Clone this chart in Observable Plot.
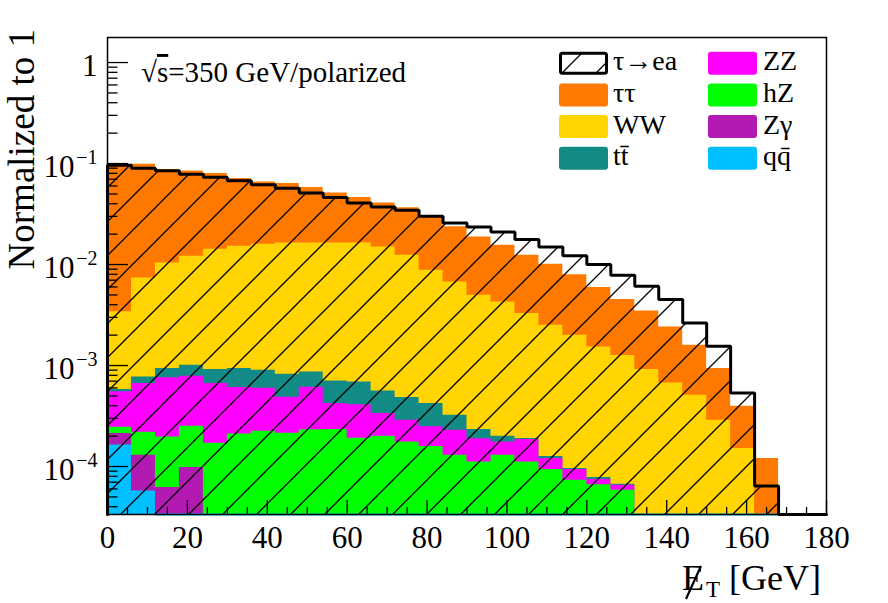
<!DOCTYPE html>
<html><head><meta charset="utf-8">
<script src="https://cdn.jsdelivr.net/npm/d3@7"></script>
<script src="https://cdn.jsdelivr.net/npm/@observablehq/plot@0.6"></script>
<style>html,body{margin:0;padding:0;background:#fff;overflow:hidden} svg text{font-family:"Liberation Serif",serif !important}</style>
</head><body><div id="chart"></div>
<script>
// ---- data (bins of 6 GeV in missing ET) ----
const binLow = [0,6,12,18,24,30,36,42,48,54,60,66,72,78,84,90,96,102,108,114,120,126,132,138,144,150,156,162,168,174];
const binWidth = 6;

// signal tau -> e a (normalized to 1)
const sigTauEA = [0.0962,0.0898,0.0848,0.0784,0.0732,0.0676,0.0617,0.0569,0.0511,0.0461,0.0407,0.0372,0.0345,0.0301,0.0258,0.0236,0.0210,0.0177,0.0149,0.0122,0.0100,0.00783,0.00610,0.00450,0.00264,0.00155,0.000536,0.0000643,0,0];

// backgrounds (stacked)
const bkgTauTau = [0.0917,0.0911,0.0768,0.0724,0.0654,0.0558,0.0498,0.0470,0.0415,0.0348,0.0297,0.0258,0.0241,0.0204,0.0170,0.01379,0.01126,0.00909,0.00756,0.00593,0.00439,0.00324,0.00256,0.00174,0.00108,0.000647,0.000244,0.000120,0,0];
const bkgWW = [0.00282,0.00660,0.00944,0.01108,0.01326,0.01425,0.01499,0.01555,0.01551,0.01567,0.01568,0.01438,0.01188,0.00836,0.00640,0.00474,0.00406,0.00308,0.00238,0.00190,0.00145,0.00119,0.000913,0.000672,0.000508,0.000287,0.000151,0,0,0];
const bkgTT = [0.000029,0.000108,0.000177,0.000224,0.000250,0.000329,0.000302,0.000334,0.000254,0.000284,0.000279,0.000226,0.000195,0.000173,0.000093,0.000044,0.000025,0.000004,0.000006,0.000002,0.0000034,0.0000015,0,0,0,0,0,0,0,0];
const bkgZZ = [0.000305,0.000445,0.000561,0.000532,0.000493,0.000395,0.000373,0.000272,0.000379,0.000188,0.000218,0.000135,0.000112,0.000089,0.000100,0.000077,0.000046,0.000074,0.0000266,0.0000202,0.0000084,0.000007,0,0,0,0,0,0,0,0];
const bkgHZ = [0.000033,0.000089,0.000134,0.000153,0.000170,0.000210,0.000223,0.000214,0.000231,0.000232,0.000191,0.000200,0.000175,0.000158,0.000129,0.000111,0.000129,0.000111,0.0000934,0.0000732,0.000066,0.0000583,0,0,0,0,0,0,0,0];
const bkgZG = [0.000049,0.0000717,0.0000619,0.0000977,0,0,0,0,0,0,0,0,0,0,0,0,0,0,0,0,0,0,0,0,0,0,0,0,0,0];
const bkgQQ = [0.000163,0.0000573,0,0,0,0,0,0,0,0,0,0,0,0,0,0,0,0,0,0,0,0,0,0,0,0,0,0,0,0];

const stackNames  = ["qq\u0304", "Z\u03b3", "hZ", "ZZ", "tt\u0304", "WW", "\u03c4\u03c4"]; // bottom -> top
const stackValues = [bkgQQ, bkgZG, bkgHZ, bkgZZ, bkgTT, bkgWW, bkgTauTau];
const stackColors = ["#00bfff", "#b21ab2", "#00ff00", "#ff00ff", "#128a85", "#ffd400", "#ff7800"];

const legendLabels = ["\u03c4\u2192ea", "\u03c4\u03c4", "WW", "tt\u0304", "ZZ", "hZ", "Z\u03b3", "qq\u0304"];
const legendColors = [null, "#ff7800", "#ffd400", "#128a85", "#ff00ff", "#00ff00", "#b21ab2", "#00bfff"];

const xMajor = [0,20,40,60,80,100,120,140,160,180];
const xMinor = [5,10,15,25,30,35,45,50,55,65,70,75,85,90,95,105,110,115,125,130,135,145,150,155,165,170,175];
const yDecades = [1e-4,1e-3,1e-2,1e-1,1];
const yExpLabels = ["\u22124","\u22123","\u22122","\u22121"];
const yMin = 3.35e-5, yMax = 1.77;
const xMin = 0, xMax = 180;

// ---- derived tables ----
const W = 888, H = 603, mL = 107, mR = 62, mT = 37, mB = 89;
const frameH = H - mT - mB, frameW = W - mL - mR;
const pxPerDec = frameH / Math.log10(yMax / yMin);
const yUp = px => yMin * Math.pow(10, px / pxPerDec);
const xRight = px => xMin + (xMax - xMin) * px / frameW;
const ff = "Liberation Serif";

function histArea(vals) {
  const pts = [];
  vals.forEach((v, i) => {
    if (v > 0) pts.push({x: binLow[i], y: v}, {x: binLow[i] + binWidth, y: v});
    else pts.push({x: binLow[i], y: NaN});
  });
  return pts;
}
// cumulative stack
const cum = [];
let run = binLow.map(() => 0);
stackValues.forEach(vals => { run = run.map((s, i) => s + vals[i]); cum.push(run.slice()); });
const layers = cum.map((c, k) => ({pts: histArea(c), color: stackColors[k]})).reverse(); // draw top first

const outline = [{x: binLow[0], y: yMin}];
sigTauEA.forEach((v, i) => { const y = v > 0 ? v : yMin; outline.push({x: binLow[i], y}, {x: binLow[i] + binWidth, y}); });

const total = cum[cum.length - 1];
const qqZeroBins = binLow.map((b, i) => ({x0: b, x1: b + binWidth, q: bkgQQ[i], t: total[i]})).filter(d => d.q === 0 && d.t > 0);

const yMinor = [];
for (let e = -5; e <= 0; e++) for (let k = 2; k <= 9; k++) { const v = k * Math.pow(10, e); if (v > yMin && v < yMax) yMinor.push(v); }

const marks = [];
layers.forEach(L => marks.push(Plot.areaY(L.pts, {x: "x", y1: yMin, y2: "y", fill: L.color})));
marks.push(Plot.ruleY(qqZeroBins, {y: () => yMin, x1: "x0", x2: "x1", stroke: "#00bfff", strokeWidth: 2}));
marks.push(Plot.areaY(histArea(sigTauEA), {x: "x", y1: yMin, y2: "y", fill: "url(#hatch)"}));
marks.push(Plot.line(outline, {x: "x", y: "y", stroke: "black", strokeWidth: 3, strokeLinejoin: "miter"}));
// ticks
marks.push(Plot.ruleX(xMajor, {x: d => d, y1: yMin, y2: yUp(14), stroke: "black", strokeWidth: 1.3}));
marks.push(Plot.ruleX(xMinor, {x: d => d, y1: yMin, y2: yUp(7), stroke: "black", strokeWidth: 1.3}));
marks.push(Plot.ruleY(yDecades, {y: d => d, x1: xMin, x2: xRight(21), stroke: "black", strokeWidth: 1.3}));
marks.push(Plot.ruleY(yMinor, {y: d => d, x1: xMin, x2: xRight(10.5), stroke: "black", strokeWidth: 1.3}));
marks.push(Plot.frame({stroke: "black", strokeWidth: 1.5}));
// tick labels
marks.push(Plot.text(xMajor, {x: d => d, frameAnchor: "bottom", lineAnchor: "top", dy: 11, text: d => String(d), fontSize: 31, fontFamily: ff}));
marks.push(Plot.text([1], {y: d => d, frameAnchor: "left", textAnchor: "end", dx: -10, dy: 4, text: () => "1", fontSize: 31, fontFamily: ff}));
marks.push(Plot.text(yDecades.slice(0, 4), {y: d => d, frameAnchor: "left", textAnchor: "end", dx: -33, dy: 4, text: () => "10", fontSize: 31, fontFamily: ff}));
marks.push(Plot.text(yDecades.slice(0, 4), {y: d => d, frameAnchor: "left", textAnchor: "end", dx: -10, dy: -6, text: (d, i) => yExpLabels[i], fontSize: 20, fontFamily: ff}));

const svg = Plot.plot({
  width: W, height: H, marginLeft: mL, marginRight: mR, marginTop: mT, marginBottom: mB,
  x: {domain: [xMin, xMax], axis: null},
  y: {type: "log", domain: [yMin, yMax], axis: null},
  style: {fontFamily: ff, background: "white", color: "black"},
  marks
});
svg.style.fontFamily = ff;

const S = d3.select(svg);
const defs = S.insert("defs", ":first-child");
const pat = defs.append("pattern").attr("id", "hatch").attr("patternUnits", "userSpaceOnUse")
  .attr("x", 23).attr("y", 0).attr("width", 34).attr("height", 34);
pat.append("path").attr("d", "M0,34L34,0M-3,3L3,-3M31,37L37,31").attr("stroke", "black").attr("stroke-width", 1.3).attr("fill", "none");

// axis titles
S.append("text").attr("transform", "translate(34,29) rotate(-90)").attr("text-anchor", "end")
  .attr("font-size", 37).attr("fill", "black").text("Normalized to 1");
const xt = S.append("text").attr("x", 682).attr("y", 590).attr("text-anchor", "start").attr("font-size", 36).attr("fill", "black");
xt.append("tspan").text("E");
xt.append("tspan").attr("dx", 2).attr("dy", 7).attr("font-size", 23).text("T");
xt.append("tspan").attr("dy", -7).text(" [GeV]");
// slash of the missing-energy symbol
S.append("path").attr("d", "M686,599L701,566").attr("stroke", "black").attr("stroke-width", 2.2).attr("fill", "none");
// energy annotation
const an = S.append("text").attr("x", 141).attr("y", 82).attr("text-anchor", "start").attr("font-size", 29).attr("fill", "black");
an.append("tspan").text("\u221a");
an.append("tspan").style("text-decoration", "overline").text("s");
an.append("tspan").text("=350 GeV/polarized");

// legend
const lg = S.append("g").attr("font-size", 28).attr("text-anchor", "start");
const colSw = [559, 708], colTx = [613, 763];
legendLabels.forEach((lab, i) => {
  const c = Math.floor(i / 4), r = i % 4;
  const top = 51.7 + r * 31.7;
  if (legendColors[i] === null) {
    lg.append("rect").attr("x", colSw[c] + 1.5).attr("y", top + 1.5).attr("width", 46).attr("height", 20).attr("fill", "white");
    lg.append("rect").attr("x", colSw[c] + 1.5).attr("y", top + 1.5).attr("width", 46).attr("height", 20).attr("rx", 2)
      .attr("fill", "url(#hatch)").attr("stroke", "black").attr("stroke-width", 3);
  } else {
    lg.append("rect").attr("x", colSw[c]).attr("y", top).attr("width", 49).attr("height", 23).attr("rx", 3).attr("fill", legendColors[i]);
  }
  lg.append("text").attr("x", colTx[c]).attr("y", top + 18.5).attr("fill", "black").text(lab);
});

S.selectAll("text").style("font-family", "'Liberation Serif', serif");
document.getElementById("chart").appendChild(svg);
</script></body></html>
